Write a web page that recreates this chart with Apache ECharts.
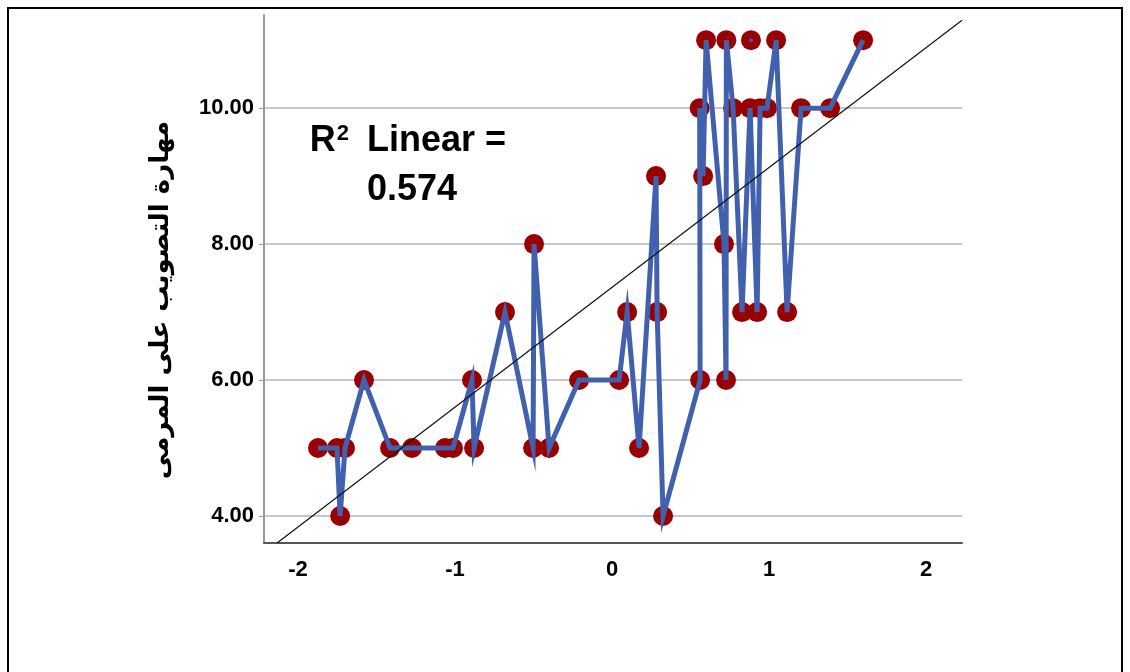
<!DOCTYPE html>
<html><head><meta charset="utf-8">
<script src="https://cdn.jsdelivr.net/npm/echarts@6/dist/echarts.min.js"></script>
<style>html,body{margin:0;padding:0;background:#fff}#c{width:1130px;height:672px}</style>
</head><body><div id="c"></div>
<script>
// Observed points, in the order the interpolation line joins them
const pointX = [-1.873,-1.752,-1.732,-1.701,-1.580,-1.414,-1.274,-1.064,-1.013,-0.892,-0.879,-0.682,-0.503,-0.497,-0.401,-0.210,0.045,0.096,0.172,0.280,0.287,0.325,0.561,0.558,0.580,0.599,0.713,0.726,0.728,0.771,0.828,0.879,0.924,0.943,0.987,1.045,1.115,1.204,1.389,1.599];
const pointY = [5,5,4,5,6,5,5,5,5,6,5,7,5,8,5,6,6,7,5,9,7,4,6,10,9,11,8,6,11,10,7,10,7,10,10,11,7,10,10,11];
// point not joined by the line
const loneX = [0.885];
const loneY = [11];
// fit line end points as drawn
const fitX = [-2.134, 2.229];
const fitY = [3.603, 11.294];
const xTicks = [-2,-1,0,1,2];
const yTicks = [4,6,8,10];
const yTitle = 'مهارة التصويب على المرمى';
const r2Value = '0.574';

const pts = pointX.map((x,i)=>[x, pointY[i]]);
const lone = loneX.map((x,i)=>[x, loneY[i]]);
const fit = fitX.map((x,i)=>[x, fitY[i]]);

const chart = echarts.init(document.getElementById('c'), null, {renderer:'canvas'});
const labelFont = {fontFamily:"'Liberation Sans', Arial, sans-serif", fontWeight:'bold', fontSize:22, color:'#000'};
chart.setOption({
  animation:false,
  backgroundColor:'#fff',
  grid:{left:264, right:168, top:15, bottom:129, containLabel:false},
  xAxis:{type:'value', min:-2.217, max:2.229,
    axisLine:{show:true, onZero:false, lineStyle:{color:'#555', width:2}},
    axisTick:{show:false, customValues:xTicks},
    axisLabel:Object.assign({customValues:xTicks, margin:16, formatter:v=>String(v)}, labelFont),
    splitLine:{show:false}},
  yAxis:{type:'value', min:3.603, max:11.37,
    axisLine:{show:true, onZero:false, lineStyle:{color:'#999', width:2}},
    axisTick:{show:true, customValues:yTicks, length:5, lineStyle:{color:'#999', width:1}},
    axisLabel:Object.assign({customValues:yTicks, margin:10, formatter:v=>v.toFixed(2)}, labelFont),
    splitLine:{show:true, lineStyle:{color:'#c8c8c8', width:2}}},
  series:[
    {type:'scatter', data:pts, symbol:'circle', symbolSize:20, itemStyle:{color:'#990000', opacity:1}, z:2, silent:true},
    {type:'scatter', data:lone, symbol:'circle', symbolSize:20, itemStyle:{color:'#990000', opacity:1}, z:2, silent:true},
    {type:'scatter', data:lone, symbol:'circle', symbolSize:4, itemStyle:{color:'#3d5fb0', opacity:1}, z:3, silent:true},
    {type:'line', data:pts, showSymbol:false, symbol:'none', lineStyle:{color:'#4160ad', width:5, join:'miter', cap:'butt'}, z:3, silent:true},
    {type:'line', data:fit, showSymbol:false, symbol:'none', lineStyle:{color:'#111', width:1.2}, z:4, silent:true}
  ],
  graphic:[
    {type:'rect', shape:{x:8, y:8, width:1114, height:700}, style:{fill:'none', stroke:'#000', lineWidth:2}, silent:true},
    {type:'text', x:161, y:300, rotation:Math.PI/2, style:{text:yTitle, align:'center', verticalAlign:'middle', font:"bold 26px 'DejaVu Sans', sans-serif", fill:'#000'}},
    {type:'text', x:408, y:141, style:{text:'R{s|2} Linear =', align:'center', verticalAlign:'middle', font:"bold 36px 'Liberation Sans', Arial, sans-serif", fill:'#000', rich:{s:{fontSize:22, fontWeight:'bold', fontFamily:"'Liberation Sans', Arial, sans-serif", verticalAlign:'top', padding:[0,8,0,1]}}}},
    {type:'text', x:412, y:190, style:{text:r2Value, align:'center', verticalAlign:'middle', font:"bold 36px 'Liberation Sans', Arial, sans-serif", fill:'#000'}}
  ]
});
</script></body></html>
